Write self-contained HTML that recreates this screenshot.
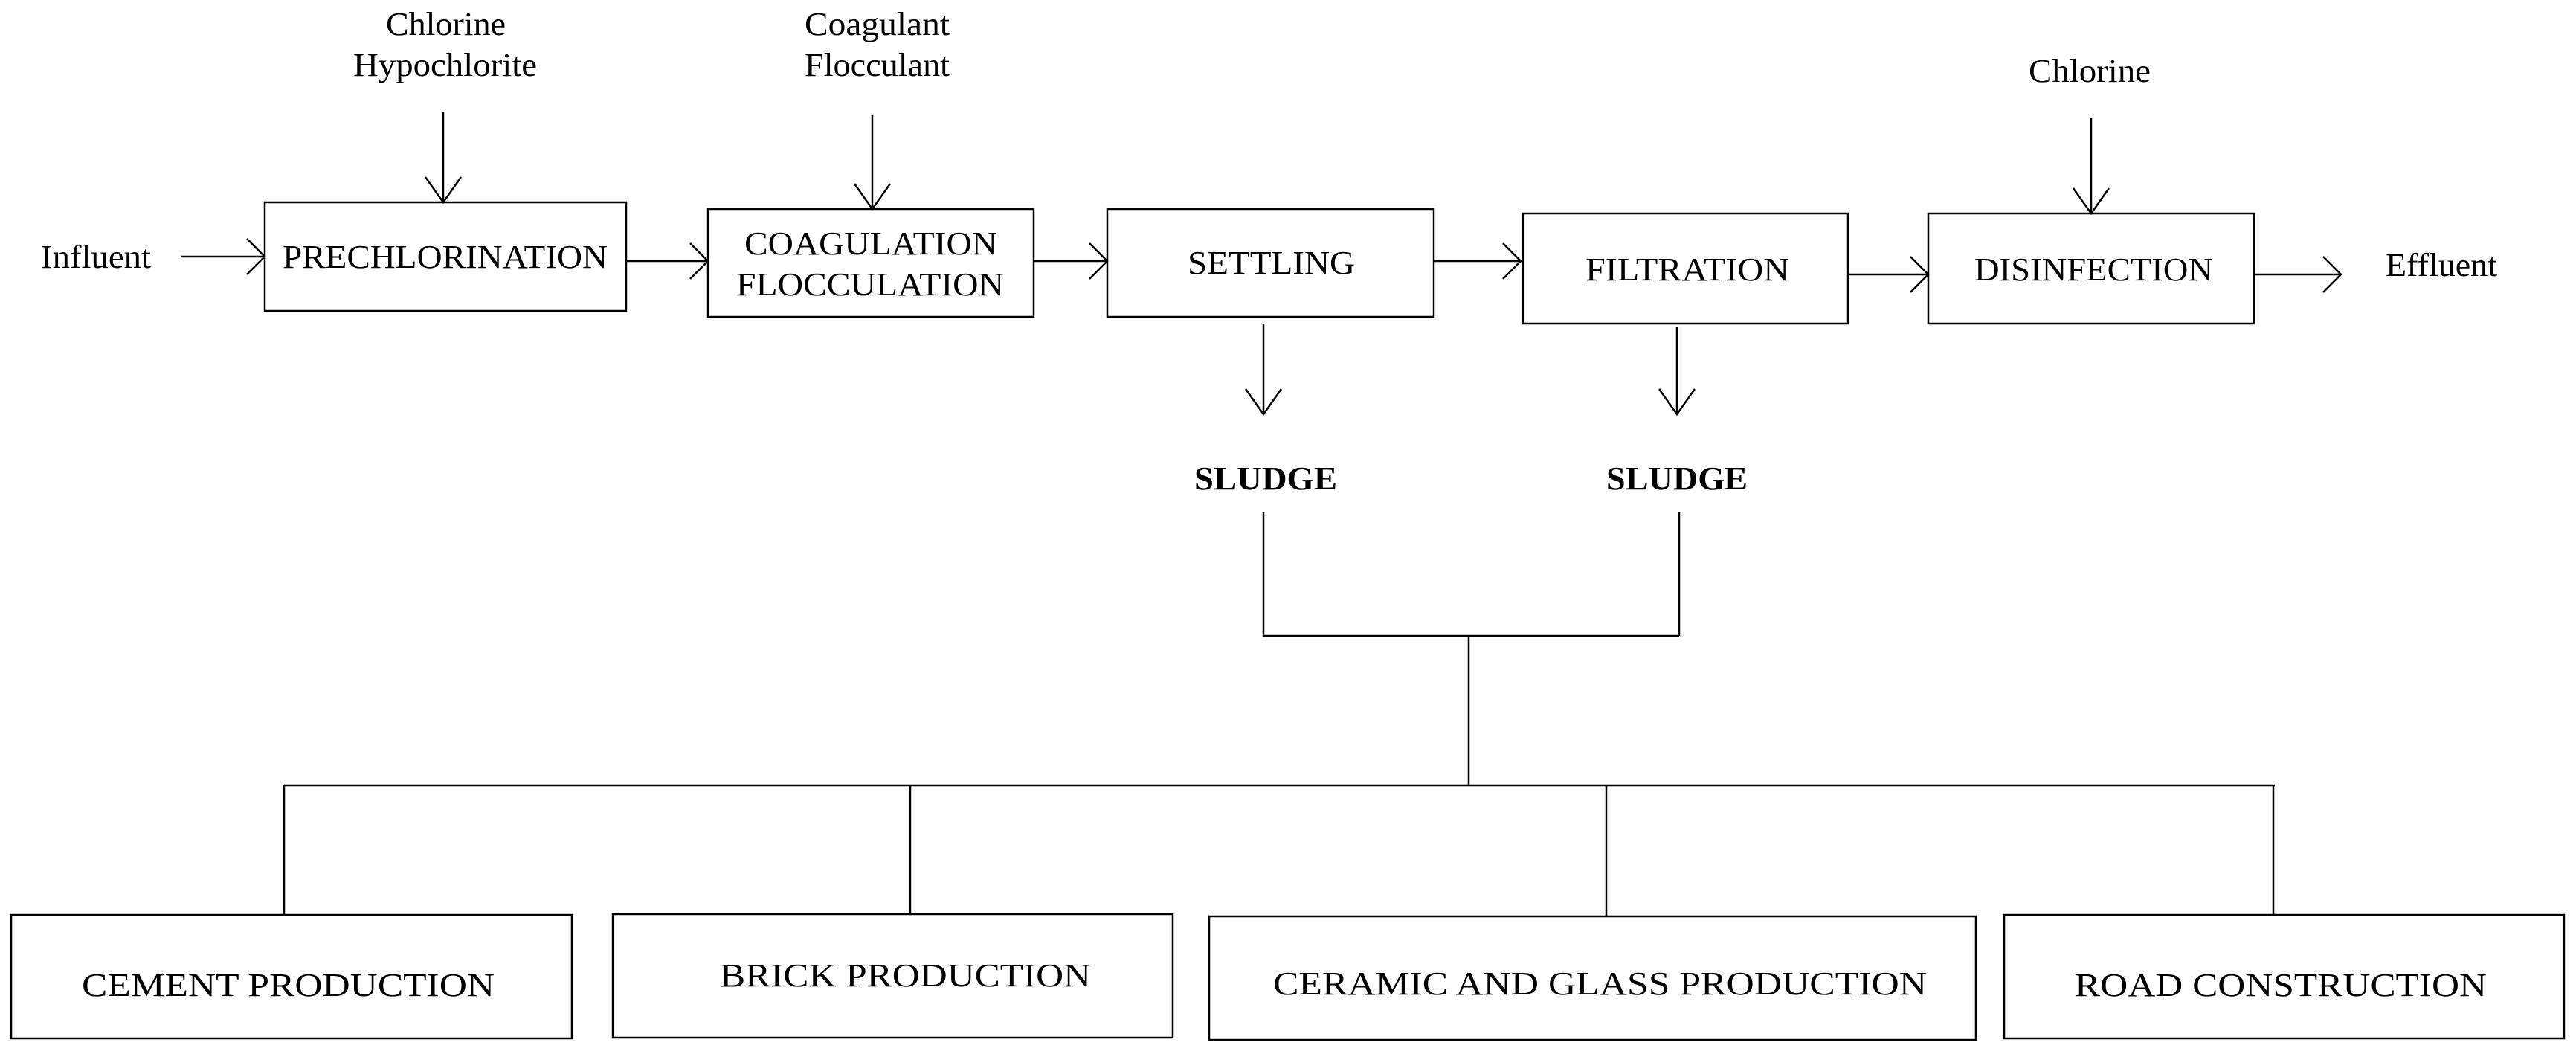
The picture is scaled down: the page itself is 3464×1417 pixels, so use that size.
<!DOCTYPE html>
<html><head><meta charset="utf-8"><style>
html,body{margin:0;padding:0;background:#fff;}
svg{display:block;}
text{font-family:"Liberation Serif",serif;fill:#000;}
</style></head><body>
<svg width="3464" height="1417" viewBox="0 0 3464 1417" xmlns="http://www.w3.org/2000/svg">
<g stroke="#000" stroke-width="2.5" fill="none">
<!-- boxes -->
<rect x="356" y="272" width="486" height="146"/>
<rect x="952" y="281" width="438" height="145"/>
<rect x="1489" y="281" width="439" height="145"/>
<rect x="2048" y="287" width="437" height="148"/>
<rect x="2593" y="287" width="438" height="148"/>
<rect x="15" y="1230" width="754" height="166"/>
<rect x="824" y="1229" width="753" height="166"/>
<rect x="1626" y="1232" width="1031" height="166"/>
<rect x="2695" y="1230" width="753" height="166"/>
<!-- lines -->
<line x1="243" y1="345" x2="356" y2="345"/>
<polyline points="332,321 356,345 332,369"/>
<line x1="596" y1="150" x2="596" y2="272"/>
<polyline points="572,238 596,272 620,238"/>
<line x1="842" y1="351" x2="952" y2="351"/>
<polyline points="928,327 952,351 928,375"/>
<line x1="1173" y1="155" x2="1173" y2="281"/>
<polyline points="1149,247 1173,281 1197,247"/>
<line x1="1390" y1="351" x2="1489" y2="351"/>
<polyline points="1465,327 1489,351 1465,375"/>
<line x1="1928" y1="351" x2="2045" y2="351"/>
<polyline points="2021,327 2045,351 2021,375"/>
<line x1="2485" y1="369" x2="2593" y2="369"/>
<polyline points="2569,345 2593,369 2569,393"/>
<line x1="2812" y1="159" x2="2812" y2="287"/>
<polyline points="2788,253 2812,287 2836,253"/>
<line x1="3031" y1="369" x2="3148" y2="369"/>
<polyline points="3124,345 3148,369 3124,393"/>
<line x1="1699" y1="435" x2="1699" y2="557"/>
<polyline points="1675,523 1699,557 1723,523"/>
<line x1="2255" y1="440" x2="2255" y2="557"/>
<polyline points="2231,523 2255,557 2279,523"/>
<line x1="1699" y1="689" x2="1699" y2="855"/>
<line x1="2258" y1="689" x2="2258" y2="855"/>
<line x1="1699" y1="855" x2="2258" y2="855"/>
<line x1="1975" y1="855" x2="1975" y2="1056"/>
<line x1="382" y1="1056" x2="3059" y2="1056"/>
<line x1="382" y1="1056" x2="382" y2="1230"/>
<line x1="1224" y1="1056" x2="1224" y2="1229"/>
<line x1="2160" y1="1056" x2="2160" y2="1232"/>
<line x1="3057" y1="1056" x2="3057" y2="1230"/>
</g>
<g font-size="44" text-anchor="start">
<text x="55" y="360" textLength="148" lengthAdjust="spacingAndGlyphs">Influent</text>
<text x="519" y="47" textLength="161" lengthAdjust="spacingAndGlyphs">Chlorine</text>
<text x="475" y="102" textLength="247" lengthAdjust="spacingAndGlyphs">Hypochlorite</text>
<text x="1082" y="47" textLength="195" lengthAdjust="spacingAndGlyphs">Coagulant</text>
<text x="1082" y="102" textLength="195" lengthAdjust="spacingAndGlyphs">Flocculant</text>
<text x="380" y="360" textLength="437" lengthAdjust="spacingAndGlyphs">PRECHLORINATION</text>
<text x="1001" y="342" textLength="340" lengthAdjust="spacingAndGlyphs">COAGULATION</text>
<text x="990" y="397" textLength="360" lengthAdjust="spacingAndGlyphs">FLOCCULATION</text>
<text x="1597" y="368" textLength="225" lengthAdjust="spacingAndGlyphs">SETTLING</text>
<text x="2132" y="377" textLength="274" lengthAdjust="spacingAndGlyphs">FILTRATION</text>
<text x="2655" y="377" textLength="321" lengthAdjust="spacingAndGlyphs">DISINFECTION</text>
<text x="2728" y="110" textLength="164" lengthAdjust="spacingAndGlyphs">Chlorine</text>
<text x="3208" y="371" textLength="150" lengthAdjust="spacingAndGlyphs">Effluent</text>
<text x="1606" y="658" font-weight="bold" textLength="192" lengthAdjust="spacingAndGlyphs">SLUDGE</text>
<text x="2160" y="658" font-weight="bold" textLength="190" lengthAdjust="spacingAndGlyphs">SLUDGE</text>
<text x="110" y="1339" textLength="555" lengthAdjust="spacingAndGlyphs">CEMENT PRODUCTION</text>
<text x="968" y="1326" textLength="499" lengthAdjust="spacingAndGlyphs">BRICK PRODUCTION</text>
<text x="1712" y="1337" textLength="879" lengthAdjust="spacingAndGlyphs">CERAMIC AND GLASS PRODUCTION</text>
<text x="2790" y="1339" textLength="554" lengthAdjust="spacingAndGlyphs">ROAD CONSTRUCTION</text>
</g>
</svg>
</body></html>
